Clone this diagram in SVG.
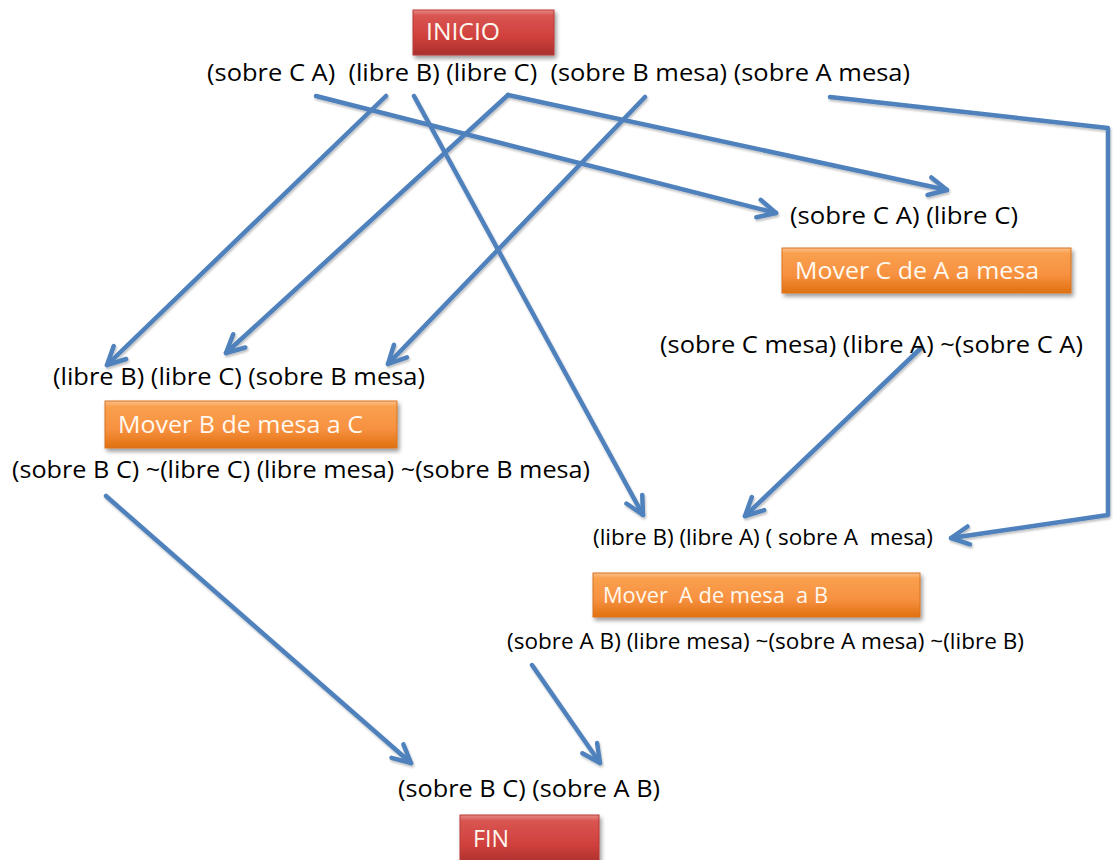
<svg xmlns="http://www.w3.org/2000/svg" width="1113" height="860" viewBox="0 0 1113 860">
  <style>
    .lbl { font-family: "Open Sans", "Noto Sans", "Liberation Sans", sans-serif; font-size: 23px; fill: #000; white-space: pre; }
    .sm { font-size: 21px; }
    .btxt { font-family: "Open Sans", "Noto Sans", "Liberation Sans", sans-serif; font-size: 23px; fill: #FFF8EE; white-space: pre; }
    .conn { fill: none; stroke: #4F81BD; stroke-width: 4.5; stroke-linecap: round; stroke-linejoin: round; }
  </style>
  <defs>
    <linearGradient id="gOrange" x1="0" y1="0" x2="0" y2="1">
      <stop offset="0" stop-color="#FCC08A"/>
      <stop offset="0.12" stop-color="#F9A04E"/>
      <stop offset="0.6" stop-color="#F79140"/>
      <stop offset="1" stop-color="#E0700F"/>
    </linearGradient>
    <linearGradient id="gRed" x1="0" y1="0" x2="0" y2="1">
      <stop offset="0" stop-color="#E88A87"/>
      <stop offset="0.12" stop-color="#D85551"/>
      <stop offset="0.6" stop-color="#D0403C"/>
      <stop offset="1" stop-color="#A8302C"/>
    </linearGradient>
    <filter id="shadow" x="-10%" y="-20%" width="120%" height="160%">
      <feGaussianBlur in="SourceAlpha" stdDeviation="2"/>
      <feOffset dx="2" dy="3" result="b"/>
      <feComponentTransfer><feFuncA type="linear" slope="0.4"/></feComponentTransfer>
      <feMerge><feMergeNode/><feMergeNode in="SourceGraphic"/></feMerge>
    </filter>
    <filter id="lineShadow" x="-5%" y="-5%" width="110%" height="110%">
      <feGaussianBlur in="SourceAlpha" stdDeviation="1.2"/>
      <feOffset dx="1" dy="2"/>
      <feComponentTransfer><feFuncA type="linear" slope="0.25"/></feComponentTransfer>
      <feMerge><feMergeNode/><feMergeNode in="SourceGraphic"/></feMerge>
    </filter>
    <marker id="arrow" viewBox="0 0 24 24" refX="21" refY="12" markerWidth="24" markerHeight="24" markerUnits="userSpaceOnUse" orient="auto">
      <path d="M3,3 L21,12 L3,21" fill="none" stroke="#4F81BD" stroke-width="4.5" stroke-linecap="round" stroke-linejoin="round"/>
    </marker>
  </defs>

  <rect width="1113" height="860" fill="#FFFFFF"/>

  <!-- connectors -->
  <g id="connectors" filter="url(#lineShadow)">
    <path class="conn" d="M316,96 L776,213" marker-end="url(#arrow)"/>
    <path class="conn" d="M386,96 L107,365" marker-end="url(#arrow)"/>
    <path class="conn" d="M414,96 L643,515" marker-end="url(#arrow)"/>
    <path class="conn" d="M508,95 L226,353" marker-end="url(#arrow)"/>
    <path class="conn" d="M508,95 L947,190" marker-end="url(#arrow)"/>
    <path class="conn" d="M645,97 L388,364" marker-end="url(#arrow)"/>
    <path class="conn" d="M830,97 L1108,128 L1108,515 L951,538" marker-end="url(#arrow)"/>
    <path class="conn" d="M920,349 L745,516" marker-end="url(#arrow)"/>
    <path class="conn" d="M106,496 L411,763" marker-end="url(#arrow)"/>
    <path class="conn" d="M532,665 L600,763" marker-end="url(#arrow)"/>
  </g>

  <!-- start -->
  <g id="inicio">
    <rect x="413" y="10" width="141" height="45" fill="url(#gRed)" stroke="#B83A36" stroke-width="1" filter="url(#shadow)"/>
    <text class="btxt" x="426" y="40" textLength="74" lengthAdjust="spacingAndGlyphs">INICIO</text>
  </g>
  <g id="estado-inicial">
    <text class="lbl" x="207" y="81" textLength="703" lengthAdjust="spacingAndGlyphs">(sobre C A)  (libre B) (libre C)  (sobre B mesa) (sobre A mesa)</text>
  </g>

  <!-- action: move C from A to table -->
  <g id="mover-c">
    <text class="lbl" x="790" y="224" textLength="228" lengthAdjust="spacingAndGlyphs">(sobre C A) (libre C)</text>
    <rect x="782" y="248" width="289" height="45" fill="url(#gOrange)" stroke="#D8741E" stroke-width="1" filter="url(#shadow)"/>
    <text class="btxt" x="795" y="279" textLength="244" lengthAdjust="spacingAndGlyphs">Mover C de A a mesa</text>
    <text class="lbl" x="660" y="353" textLength="423" lengthAdjust="spacingAndGlyphs">(sobre C mesa) (libre A) ~(sobre C A)</text>
  </g>

  <!-- action: move B from table to C -->
  <g id="mover-b">
    <text class="lbl" x="53" y="385" textLength="372" lengthAdjust="spacingAndGlyphs">(libre B) (libre C) (sobre B mesa)</text>
    <rect x="105" y="401" width="292" height="47" fill="url(#gOrange)" stroke="#D8741E" stroke-width="1" filter="url(#shadow)"/>
    <text class="btxt" x="118" y="433" textLength="245" lengthAdjust="spacingAndGlyphs">Mover B de mesa a C</text>
    <text class="lbl" x="12" y="478" textLength="578" lengthAdjust="spacingAndGlyphs">(sobre B C) ~(libre C) (libre mesa) ~(sobre B mesa)</text>
  </g>

  <!-- action: move A from table to B -->
  <g id="mover-a">
    <text class="lbl sm" x="593" y="545" textLength="340" lengthAdjust="spacingAndGlyphs">(libre B) (libre A) ( sobre A  mesa)</text>
    <rect x="593" y="573" width="327" height="44" fill="url(#gOrange)" stroke="#D8741E" stroke-width="1" filter="url(#shadow)"/>
    <text class="btxt" x="603" y="603" style="font-size:22px" textLength="225" lengthAdjust="spacingAndGlyphs">Mover  A de mesa  a B</text>
    <text class="lbl sm" x="507" y="649" textLength="517" lengthAdjust="spacingAndGlyphs">(sobre A B) (libre mesa) ~(sobre A mesa) ~(libre B)</text>
  </g>

  <!-- goal -->
  <g id="estado-final">
    <text class="lbl" x="398" y="797" textLength="262" lengthAdjust="spacingAndGlyphs">(sobre B C) (sobre A B)</text>
  </g>
  <g id="fin">
    <rect x="460" y="815" width="139" height="50" fill="url(#gRed)" stroke="#B83A36" stroke-width="1" filter="url(#shadow)"/>
    <text class="btxt" x="473" y="847" textLength="36" lengthAdjust="spacingAndGlyphs">FIN</text>
  </g>
</svg>
